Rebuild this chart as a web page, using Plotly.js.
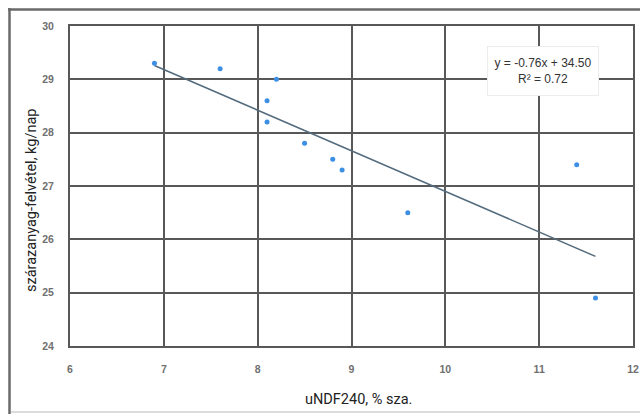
<!DOCTYPE html>
<html><head><meta charset="utf-8">
<script src="https://cdn.plot.ly/plotly-3.0.1.min.js"></script>
<style>html,body{margin:0;padding:0;background:#fff}#chart{width:640px;height:414px}</style>
</head><body><div id="chart"></div>
<script>
// data
const undf = [6.9, 7.6, 8.1, 8.1, 8.2, 8.5, 8.8, 8.9, 9.6, 11.4, 11.6];
const dmi  = [29.3, 29.2, 28.6, 28.2, 29.0, 27.8, 27.5, 27.3, 26.5, 27.4, 24.9];
const trendX = [6.9, 11.6];
const trendY = [29.26, 25.68];
const xTicks = [6, 7, 8, 9, 10, 11, 12];
const yTicks = [24, 25, 26, 27, 28, 29, 30];
const eqText = "y = -0.76x + 34.50<br>R² = 0.72";
const xTitle = "uNDF240, % sza.";
const yTitle = "szárazanyag-felvétel, kg/nap";

const L = 70, R = 7, T = 26, B = 68, W = 640, H = 414;
const pw = W - L - R, ph = H - T - B;
const px = v => (v - L) / pw;          // pixel -> paper x
const py = v => 1 - (v - T) / ph;      // pixel -> paper y

const gridCol = "#585858";
const tickFont = {family: "Liberation Sans", size: 10.5, color: "#707070", weight: "bold"};
const titleFont = {family: "Roboto", size: 14.5, color: "#222"};

const traces = [
  {x: trendX, y: trendY, mode: "lines", type: "scatter",
   line: {color: "#536b7d", width: 1.5}, hoverinfo: "skip"},
  {x: undf, y: dmi, mode: "markers", type: "scatter",
   marker: {color: "#3c8fe3", size: 5}}
];

const layout = {
  width: W, height: H, showlegend: false,
  margin: {l: L, r: R, t: T, b: B},
  paper_bgcolor: "#fff", plot_bgcolor: "#fff",
  xaxis: {range: [6, 12], tickvals: xTicks, ticktext: xTicks.map(String),
    showgrid: true, gridcolor: gridCol, gridwidth: 2, zeroline: false,
    showline: true, mirror: true, linecolor: gridCol, linewidth: 2,
    ticks: "outside", ticklen: 12, tickcolor: "rgba(0,0,0,0)", tickfont: tickFont},
  yaxis: {range: [24, 30], tickvals: yTicks, ticktext: yTicks.map(String),
    showgrid: true, gridcolor: gridCol, gridwidth: 2, zeroline: false,
    showline: true, mirror: true, linecolor: gridCol, linewidth: 2,
    ticks: "outside", ticklen: 12, tickcolor: "rgba(0,0,0,0)", tickfont: tickFont},
  annotations: [
    {text: eqText, xref: "paper", yref: "paper", x: px(543), y: py(71),
     xanchor: "center", yanchor: "middle",
     showarrow: false, bgcolor: "#fff", bordercolor: "#ececec", borderwidth: 1,
     width: 108, height: 46, align: "center",
     font: {family: "Liberation Sans", size: 12, color: "#333"}},
    {text: xTitle, xref: "paper", yref: "paper", x: px(358), y: py(399),
     xanchor: "center", yanchor: "middle",
     showarrow: false, font: titleFont},
    {text: yTitle, xref: "paper", yref: "paper", x: px(31), y: py(201),
     xanchor: "center", yanchor: "middle",
     showarrow: false, textangle: -90, font: titleFont}
  ],
  shapes: [
    {type: "line", xref: "paper", yref: "paper", x0: px(9.5), x1: px(9.5), y0: py(8), y1: py(414),
     line: {color: "#6a6a6a", width: 2.5}},
    {type: "line", xref: "paper", yref: "paper", x0: px(8), x1: px(640), y0: py(9.5), y1: py(9.5),
     line: {color: "#6a6a6a", width: 2.5}},
    {type: "line", xref: "paper", yref: "paper", x0: px(11), x1: px(640), y0: py(412), y1: py(412),
     line: {color: "#d0d0d0", width: 1.5}}
  ]
};

Plotly.newPlot("chart", traces, layout, {displayModeBar: false, staticPlot: true});
</script></body></html>
